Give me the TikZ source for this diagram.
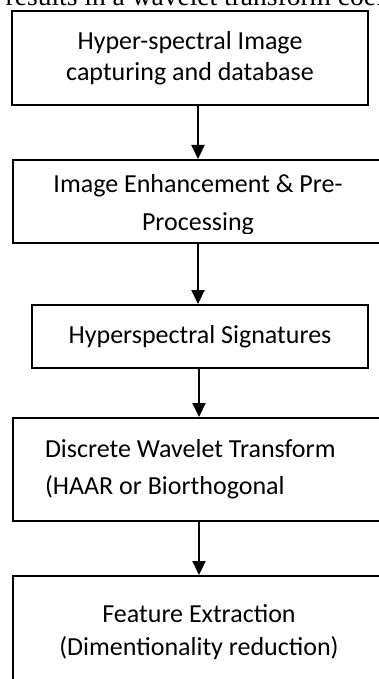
\documentclass[tikz,border=0pt]{standalone}
\usepackage{fontspec}
\setmainfont{Carlito}
\newfontfamily\pagefont{Liberation Serif}
\usepackage{tikz}
\usetikzlibrary{arrows.meta, positioning}

\begin{document}
\begin{tikzpicture}[x=1pt, y=-1pt,
        every node/.style={font=\fontsize{26}{31}\selectfont},
        stage/.style={rectangle, draw=black, line width=2pt, align=center, inner sep=0pt},
        arrow/.style={-{Triangle[width=13pt, length=14pt]}, line width=2.2pt}
    ]
        \useasboundingbox (0,0) rectangle (379,679);
        \clip (0,0) rectangle (379,679);

        % page text above the figure
        \node[anchor=base west, inner sep=0pt, font=\pagefont\fontsize{27.5}{30}\selectfont] (txt) at (-9,6) {t results in a wavelet transform coefficients};

        \node[stage, minimum width=356pt, minimum height=94pt] (capture) at (190,58) {Hyper-spectral Image\\capturing and database};
        \node[stage, minimum width=370pt, minimum height=83pt] (enhance) at (198,201.5) {};
        \begin{scope}
            \clip (0,160) rectangle (379,233);
            \node[align=center, inner sep=0pt, font=\fontsize{26}{38}\selectfont] (enhtext) at (198,205) {Image Enhancement \& Pre-\\Processing};
        \end{scope}
        \node[stage, minimum width=336pt, minimum height=63pt] (signature) at (200,336.5) {Hyperspectral Signatures};
        \node[stage, minimum width=372pt, minimum height=103pt, text width=308pt, align=flush left, font=\fontsize{26}{37}\selectfont] (dwt) at (199,469.5) {Discrete Wavelet Transform\\(HAAR or Biorthogonal};
        \node[stage, minimum width=372pt, minimum height=112pt, font=\fontsize{26}{33}\selectfont] (feature) at (199,632) {Feature Extraction\\(Dimentionality reduction)};

        % Arrows
        \draw[arrow] (capture.south -| enhance.north) -- (enhance.north);
        \draw[arrow] (enhance.south) -- (enhance.south |- signature.north);
        \draw[arrow] (signature.south -| dwt.north) -- (dwt.north);
        \draw[arrow] (dwt.south) -- (feature.north);

    \end{tikzpicture}
\end{document}
